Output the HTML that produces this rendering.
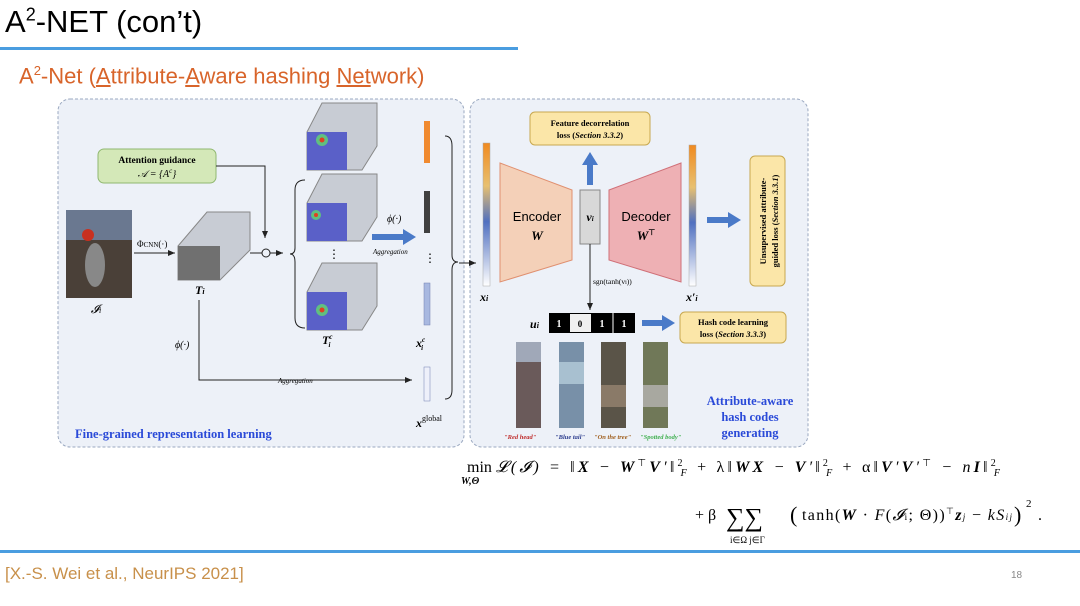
<!DOCTYPE html>
<html><head><meta charset="utf-8"><style>
body{margin:0;width:1080px;height:606px;background:#fff;overflow:hidden;position:relative;font-family:"Liberation Sans",sans-serif}
.abs{position:absolute}
</style></head><body>
<div class="abs" style="left:5px;top:4px;font-size:31px;color:#000">A<sup style="font-size:18px">2</sup>-NET (con’t)</div>
<div class="abs" style="left:0;top:47px;width:518px;height:3px;background:#4a9de0"></div>
<div class="abs" style="left:19px;top:63px;font-size:22px;color:#d8642a">A<sup style="font-size:13px">2</sup>-Net (<u>A</u>ttribute-<u>A</u>ware hashing <u>Net</u>work)</div>
<svg class="abs" style="left:0;top:0" width="1080" height="606" font-family="Liberation Serif,serif">
<defs>
<linearGradient id="bar" x1="0" y1="0" x2="0" y2="1"><stop offset="0" stop-color="#f08a20"/><stop offset=".3" stop-color="#e8c070"/><stop offset=".55" stop-color="#5070c0"/><stop offset="1" stop-color="#fff"/></linearGradient>
<marker id="ar" markerWidth="8" markerHeight="8" refX="7" refY="4" orient="auto"><path d="M0,1 L7,4 L0,7z" fill="#222"/></marker>
</defs>
<rect x="56" y="97" width="760" height="353" fill="#fff"/>
<rect x="58" y="99" width="406" height="348" rx="12" fill="#edf1f8" stroke="#9aa8c0" stroke-dasharray="3,2"/>
<rect x="470" y="99" width="338" height="348" rx="12" fill="#edf1f8" stroke="#9aa8c0" stroke-dasharray="3,2"/>
<rect x="98" y="149" width="118" height="34" rx="6" fill="#d4e8b8" stroke="#90b870"/>
<text x="157" y="163" font-size="9.5" font-weight="bold" text-anchor="middle">Attention guidance</text>
<text x="157" y="177" font-size="10" font-style="italic" text-anchor="middle">𝒜 = {A<tspan font-size="7" dy="-4">c</tspan><tspan dy="4">}</tspan></text>
<path d="M216,166 H265 V238" stroke="#222" fill="none" marker-end="url(#ar)"/>
<rect x="66" y="210" width="66" height="88" fill="#4a4038"/>
<rect x="66" y="210" width="66" height="30" fill="#6a7890"/>
<circle cx="88" cy="235" r="6" fill="#c83020"/>
<ellipse cx="95" cy="265" rx="10" ry="22" fill="#888"/>
<text x="96" y="313" font-size="12" font-style="italic" text-anchor="middle">𝓘<tspan font-size="8">i</tspan></text>
<path d="M134,253 H175" stroke="#222" marker-end="url(#ar)"/>
<text x="137" y="247" font-size="9">Φ<tspan font-size="7">CNN</tspan>(·)</text>
<polygon points="178,246 207,212 250,212 250,250 220,280 178,280" fill="#c8ccd4" stroke="#888"/>
<rect x="178" y="246" width="42" height="34" fill="#707070"/>
<text x="195" y="294" font-size="12" font-weight="bold" font-style="italic">T<tspan font-size="8">i</tspan></text>
<path d="M250,253 H262 M270,253 H283" stroke="#222" marker-end="url(#ar)"/>
<circle cx="266" cy="253" r="4" fill="none" stroke="#222"/>
<path d="M199,300 V380 H412" stroke="#222" fill="none" marker-end="url(#ar)"/>
<text x="175" y="348" font-size="10" font-style="italic">ϕ(·)</text>
<text x="278" y="383" font-size="7" font-style="italic">Aggregation</text>
<path d="M305,180 Q295,180 295,190 V248 Q295,254 290,254 Q295,254 295,262 V318 Q295,328 305,328" stroke="#222" fill="none"/>
<g>
<polygon points="307,132 322,103 377,103 377,146 362,170 307,170" fill="#c8ccd4" stroke="#888"/><rect x="307" y="132" width="40" height="38" fill="#5a60c8"/><circle cx="322" cy="140" r="6" fill="#60c080"/><circle cx="322" cy="140" r="2.5" fill="#e04020"/>
<polygon points="307,203 322,174 377,174 377,217 362,241 307,241" fill="#c8ccd4" stroke="#888"/><rect x="307" y="203" width="40" height="38" fill="#5a60c8"/><circle cx="316" cy="215" r="5" fill="#60c080"/><circle cx="316" cy="215" r="2" fill="#e04020"/>
<polygon points="307,292 322,263 377,263 377,306 362,330 307,330" fill="#c8ccd4" stroke="#888"/><rect x="307" y="292" width="40" height="38" fill="#5a60c8"/><circle cx="322" cy="310" r="6" fill="#60c080"/><circle cx="322" cy="310" r="2.5" fill="#e04020"/>
</g>
<text x="334" y="258" font-size="12" text-anchor="middle">⋮</text>
<text x="322" y="344" font-size="12" font-weight="bold" font-style="italic">T<tspan font-size="7" dy="-5">c</tspan><tspan font-size="7" dx="-4" dy="8">i</tspan></text>
<path d="M372,237 H405" stroke="#4a7ac8" stroke-width="6"/><polygon points="403,229 416,237 403,245" fill="#4a7ac8"/>
<text x="387" y="222" font-size="10" font-style="italic">ϕ(·)</text>
<text x="373" y="254" font-size="7" font-style="italic">Aggregation</text>
<rect x="424" y="121" width="6" height="42" fill="#f08a30"/>
<rect x="424" y="191" width="6" height="42" fill="#404040"/>
<text x="424" y="262" font-size="12">⋮</text>
<rect x="424" y="283" width="6" height="42" fill="#a8b8e0" stroke="#7080b0" stroke-width=".5"/>
<rect x="424" y="367" width="6" height="34" fill="#eef0fa" stroke="#7080b0" stroke-width=".5"/>
<text x="416" y="347" font-size="12" font-weight="bold" font-style="italic">x<tspan font-size="7" dy="-5">c</tspan><tspan font-size="7" dx="-4" dy="8">i</tspan></text>
<text x="416" y="427" font-size="12" font-weight="bold" font-style="italic">x<tspan font-size="8" dy="-6" font-style="normal" font-weight="normal">global</tspan></text>
<path d="M445,136 Q452,136 452,146 V255 Q452,262 458,262 Q452,262 452,270 V390 Q452,399 445,399" stroke="#222" fill="none"/>
<path d="M459,263 H476" stroke="#222" marker-end="url(#ar)"/>
<text x="75" y="438" font-size="12.5" font-weight="bold" fill="#2a4ad8">Fine-grained  representation  learning</text>
<rect x="483" y="143" width="7" height="143" fill="url(#bar)" stroke="#aaa" stroke-width=".5"/>
<text x="480" y="301" font-size="12" font-weight="bold" font-style="italic">x<tspan font-size="8">i</tspan></text>
<rect x="689" y="145" width="7" height="141" fill="url(#bar)" stroke="#aaa" stroke-width=".5"/>
<text x="686" y="301" font-size="12" font-weight="bold" font-style="italic">x′<tspan font-size="8">i</tspan></text>
<polygon points="500,163 572,190 572,260 500,282" fill="#f4d0b8" stroke="#e09070"/>
<text x="537" y="221" font-size="13" font-family="Liberation Sans,sans-serif" text-anchor="middle">Encoder</text>
<text x="537" y="240" font-size="13" font-weight="bold" font-style="italic" text-anchor="middle">W</text>
<rect x="580" y="190" width="20" height="54" fill="#d8d8d8" stroke="#888"/>
<text x="590" y="221" font-size="12" font-weight="bold" font-style="italic" text-anchor="middle">v<tspan font-size="7">i</tspan></text>
<polygon points="609,190 681,163 681,282 609,260" fill="#eeb0b4" stroke="#d07078"/>
<text x="646" y="221" font-size="13" font-family="Liberation Sans,sans-serif" text-anchor="middle">Decoder</text>
<text x="646" y="240" font-size="13" font-weight="bold" font-style="italic" text-anchor="middle">W<tspan font-size="8" dy="-5" font-style="normal">⊤</tspan></text>
<rect x="530" y="112" width="120" height="33" rx="5" fill="#fbe6a8" stroke="#c8a850"/>
<text x="590" y="126" font-size="8.5" font-weight="bold" text-anchor="middle">Feature decorrelation</text>
<text x="590" y="138" font-size="8.5" font-weight="bold" text-anchor="middle">loss (<tspan font-style="italic">Section 3.3.2</tspan>)</text>
<path d="M590,185 V163" stroke="#4a7ac8" stroke-width="6"/><polygon points="582,165 590,152 598,165" fill="#4a7ac8"/>
<path d="M707,220 H730" stroke="#4a7ac8" stroke-width="6"/><polygon points="728,212 741,220 728,228" fill="#4a7ac8"/>
<rect x="750" y="156" width="35" height="130" rx="5" fill="#fbe6a8" stroke="#c8a850"/>
<text transform="translate(766,221) rotate(-90)" font-size="8.5" font-weight="bold" text-anchor="middle">Unsupervised attribute-</text>
<text transform="translate(778,221) rotate(-90)" font-size="8.5" font-weight="bold" text-anchor="middle">guided loss (<tspan font-style="italic">Section 3.3.1</tspan>)</text>
<path d="M590,244 V310" stroke="#222" marker-end="url(#ar)"/>
<text x="593" y="284" font-size="7.5">sgn(tanh(v<tspan font-size="6">i</tspan>))</text>
<text x="530" y="328" font-size="12" font-weight="bold" font-style="italic">u<tspan font-size="8">i</tspan></text>
<rect x="549" y="313" width="86" height="20" fill="#000"/>
<rect x="570" y="314" width="21" height="18" fill="#f0f0f0"/>
<line x1="613" y1="313" x2="613" y2="333" stroke="#fff"/>
<text x="559" y="327" font-size="10" font-weight="bold" fill="#fff" text-anchor="middle">1</text>
<text x="580" y="327" font-size="9" font-weight="bold" text-anchor="middle">0</text>
<text x="602" y="327" font-size="10" font-weight="bold" fill="#fff" text-anchor="middle">1</text>
<text x="624" y="327" font-size="10" font-weight="bold" fill="#fff" text-anchor="middle">1</text>
<path d="M642,323 H664" stroke="#4a7ac8" stroke-width="6"/><polygon points="662,315 675,323 662,331" fill="#4a7ac8"/>
<rect x="680" y="312" width="106" height="31" rx="5" fill="#fbe6a8" stroke="#c8a850"/>
<text x="733" y="325" font-size="8.5" font-weight="bold" text-anchor="middle">Hash code learning</text>
<text x="733" y="337" font-size="8.5" font-weight="bold" text-anchor="middle">loss (<tspan font-style="italic">Section 3.3.3</tspan>)</text>
<g>
<rect x="516" y="342" width="25" height="86" fill="#6a5a5a"/><rect x="516" y="342" width="25" height="20" fill="#a0a8b8"/>
<rect x="559" y="342" width="25" height="86" fill="#7890a8"/><rect x="559" y="362" width="25" height="22" fill="#a8c0d0"/>
<rect x="601" y="342" width="25" height="86" fill="#5a5448"/><rect x="601" y="385" width="25" height="22" fill="#8a7a68"/>
<rect x="643" y="342" width="25" height="86" fill="#707858"/><rect x="643" y="385" width="25" height="22" fill="#a8a8a0"/>
</g>
<g font-size="6.5" font-weight="bold" font-style="italic">
<text x="504" y="439" fill="#c03030">"Red head"</text>
<text x="555" y="439" fill="#304090">"Blue tail"</text>
<text x="594" y="439" fill="#a06020">"On the tree"</text>
<text x="640" y="439" fill="#40b050">"Spotted body"</text>
</g>
<g font-size="12.5" font-weight="bold" fill="#2a4ad8" text-anchor="middle">
<text x="750" y="405">Attribute-aware</text>
<text x="750" y="421">hash codes</text>
<text x="750" y="437">generating</text>
</g>
<g font-size="16">
<text x="467" y="472">min</text>
<text x="461" y="484" font-size="10" font-weight="bold" font-style="italic">W,Θ</text>
<text x="496" y="472" font-style="italic" textLength="504" lengthAdjust="spacing">𝓛(𝓘) = ‖<tspan font-weight="bold">X</tspan> − <tspan font-weight="bold">W</tspan><tspan font-size="10" dy="-6" font-style="normal">⊤</tspan><tspan dy="6" font-weight="bold">V</tspan>′‖<tspan font-size="10" dy="-6" font-style="normal">2</tspan><tspan font-size="10" dx="-5" dy="10">F</tspan><tspan dy="-4" font-style="normal"> + λ‖</tspan><tspan font-weight="bold">WX</tspan> − <tspan font-weight="bold">V</tspan>′‖<tspan font-size="10" dy="-6" font-style="normal">2</tspan><tspan font-size="10" dx="-5" dy="10">F</tspan><tspan dy="-4" font-style="normal"> + α‖</tspan><tspan font-weight="bold">V</tspan>′<tspan font-weight="bold">V</tspan>′<tspan font-size="10" dy="-6" font-style="normal">⊤</tspan><tspan dy="6"> − n</tspan><tspan font-weight="bold">I</tspan>‖<tspan font-size="10" dy="-6" font-style="normal">2</tspan><tspan font-size="10" dx="-5" dy="10">F</tspan></text>
<text x="695" y="520">+ β</text>
<text x="726" y="526" font-size="26">∑∑</text>
<text x="730" y="543" font-size="9">i∈Ω j∈Γ</text>
<text x="790" y="522" font-size="22">(</text>
<text x="802" y="520" textLength="210" lengthAdjust="spacing">tanh(<tspan font-weight="bold" font-style="italic">W</tspan> · <tspan font-style="italic">F</tspan>(<tspan font-style="italic">𝓘</tspan><tspan font-size="9">i</tspan>; Θ))<tspan font-size="9" dy="-6">⊤</tspan><tspan dy="6" font-weight="bold" font-style="italic">z</tspan><tspan font-size="9" font-style="italic">j</tspan> − <tspan font-style="italic">kS</tspan><tspan font-size="9" font-style="italic">ij</tspan></text>
<text x="1014" y="522" font-size="22">)</text>
<text x="1026" y="507" font-size="11">2</text>
<text x="1038" y="520">.</text>
</g>
</svg>
<div class="abs" style="left:0;top:550px;width:1080px;height:3px;background:#4a9de0"></div>
<div class="abs" style="left:5px;top:564px;font-size:17px;color:#c8904a">[X.-S. Wei et al., NeurIPS 2021]</div>
<div class="abs" style="left:1011px;top:570px;font-size:10px;color:#888">18</div>
</body></html>
